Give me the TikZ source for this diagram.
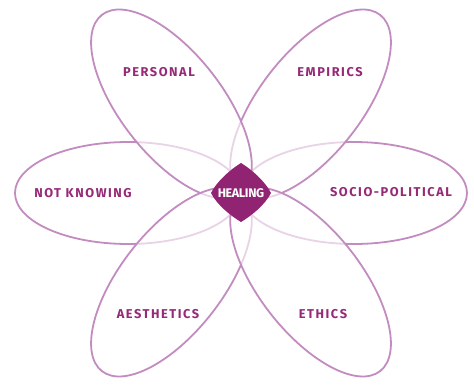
\documentclass[tikz,border=0pt]{standalone}
\usepackage{fontspec}
\usetikzlibrary{calc}
\setmainfont{Fira Sans}
\newfontfamily\labelfont[LetterSpace=12]{Fira Sans}
\newfontfamily\healfont[LetterSpace=-3]{Fira Sans}
\definecolor{petal}{HTML}{C38CC0}
\definecolor{labeltxt}{HTML}{962A78}
\definecolor{core}{HTML}{902473}
\tikzset{
  petalshape/.style={draw=petal, line width=1.8pt, fill=white, fill opacity=0.62, draw opacity=1},
  petallabel/.style={text=labeltxt, font=\labelfont\bfseries\fontsize{12.8}{14}\selectfont, inner sep=0pt},
}
\begin{document}
\begin{tikzpicture}[x=1pt,y=1pt]
\useasboundingbox (0,0) rectangle (474,384);
\coordinate (C) at (241,191);
% petals in drawing order
\foreach \ang in {180,0,52,128,232,308}{
  \draw[petalshape] ($(C)+(\ang:113)$) ellipse[x radius=113, y radius=51, rotate=\ang];
}
% central diamond
\fill[core] (241,221) .. controls (251,215) and (265,203) .. (271,191)
  .. controls (265,179) and (251,168) .. (241,162)
  .. controls (231,168) and (217,179) .. (211,191)
  .. controls (217,203) and (231,215) .. (241,221) -- cycle;
\node[text=white, font=\healfont\bfseries\fontsize{12.5}{14}\selectfont, inner sep=0pt] (heal) at (241,191) {HEALING};
\node[petallabel] (personal) at (159,312) {PERSONAL};
\node[petallabel] (empirics) at (330,312) {EMPIRICS};
\node[petallabel] (notknowing) at (83,191) {NOT KNOWING};
\node[petallabel] (socio) at (391,192) {SOCIO-POLITICAL};
\node[petallabel] (aesthetics) at (158,70) {AESTHETICS};
\node[petallabel] (ethics) at (323,70) {ETHICS};
\end{tikzpicture}
\end{document}
